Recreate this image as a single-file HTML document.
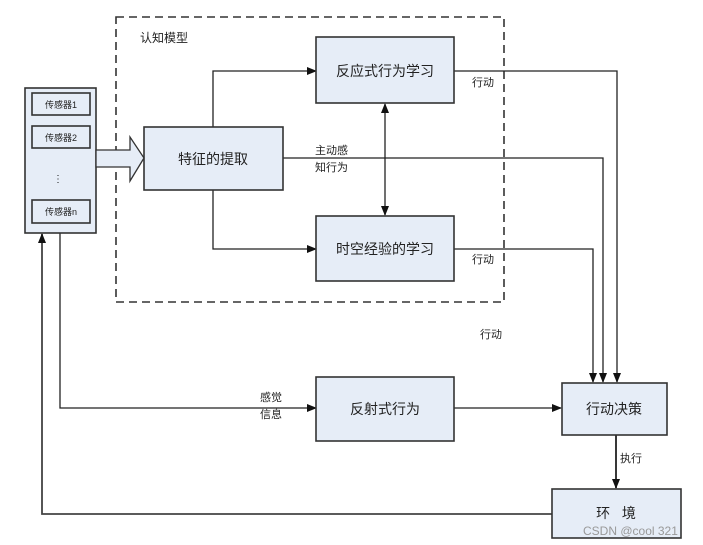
<!DOCTYPE html>
<html><head><meta charset="utf-8"><style>
html,body{margin:0;padding:0;background:#fff;width:703px;height:545px;overflow:hidden}
svg{display:block}
text{font-family:"Liberation Sans","Noto Sans CJK SC",sans-serif;fill:#222}
</style></head><body>
<svg width="703" height="545" viewBox="0 0 703 545" xmlns="http://www.w3.org/2000/svg">
<defs>
<marker id="a" markerWidth="10" markerHeight="8" refX="9" refY="4" orient="auto" markerUnits="userSpaceOnUse">
<path d="M0,0 L10,4 L0,8 Z" fill="#111"/></marker>
<marker id="s" markerWidth="10" markerHeight="8" refX="1" refY="4" orient="auto" markerUnits="userSpaceOnUse">
<path d="M10,0 L0,4 L10,8 Z" fill="#111"/></marker>
</defs>
<g fill="none" stroke="#222" stroke-width="1.3">
<!-- dashed cognitive box -->
<rect x="116" y="17" width="388" height="285" stroke="#333" stroke-width="1.6" stroke-dasharray="8,5"/>
<!-- feature to reactive -->
<polyline points="213,127 213,71 316,71" marker-end="url(#a)"/>
<polyline points="213,190 213,249 316,249" marker-end="url(#a)"/>
<!-- bidirectional -->
<line x1="385" y1="104" x2="385" y2="215" marker-start="url(#s)" marker-end="url(#a)"/>
<!-- main active perception line -->
<polyline points="283,158 603,158 603,382" marker-end="url(#a)"/>
<polyline points="454,71 617,71 617,382" marker-end="url(#a)"/>
<polyline points="454,249 593,249 593,382" marker-end="url(#a)"/>
<!-- sensory -->
<polyline points="60,233 60,408 316,408" marker-end="url(#a)"/>
<line x1="454" y1="408" x2="561" y2="408" marker-end="url(#a)"/>
<line x1="616" y1="435" x2="616" y2="488" stroke-width="1.8" marker-end="url(#a)"/>
<polyline points="552,514 42,514 42,234" stroke-width="1.8" stroke="#444" marker-end="url(#a)"/>
</g>
<!-- boxes -->
<g fill="#e6edf7" stroke="#333" stroke-width="1.6">
<rect x="25" y="88" width="71" height="145"/>
<rect x="32" y="93" width="58" height="22"/>
<rect x="32" y="126" width="58" height="22"/>
<rect x="32" y="200" width="58" height="23"/>
<rect x="144" y="127" width="139" height="63"/>
<rect x="316" y="37" width="138" height="66"/>
<rect x="316" y="216" width="138" height="65"/>
<rect x="316" y="377" width="138" height="64"/>
<rect x="562" y="383" width="105" height="52"/>
<rect x="552" y="489" width="129" height="49"/>
<!-- big arrow -->
<path d="M96,150 L130,150 L130,137 L144,158 L130,181 L130,167 L96,167 Z" stroke-width="1.3"/>
</g>
<g font-size="9">
<text x="61" y="108" text-anchor="middle">传感器1</text>
<text x="61" y="141" text-anchor="middle">传感器2</text>
<text x="61" y="215" text-anchor="middle">传感器n</text>
<text x="58" y="182" text-anchor="middle" font-size="10">⋮</text>
</g>
<g font-size="14" text-anchor="middle">
<text x="213" y="164">特征的提取</text>
<text x="385" y="76">反应式行为学习</text>
<text x="385" y="254">时空经验的学习</text>
<text x="385" y="414">反射式行为</text>
<text x="614" y="414">行动决策</text>
<text x="616" y="518">环&#160;&#160;&#160;境</text>
</g>
<g font-size="11">
<text x="140" y="42" font-size="12">认知模型</text>
<text x="472" y="86">行动</text>
<text x="472" y="263">行动</text>
<text x="480" y="338">行动</text>
<text x="315" y="154">主动感</text>
<text x="315" y="171">知行为</text>
<text x="260" y="401">感觉</text>
<text x="260" y="418">信息</text>
<text x="620" y="462">执行</text>
</g>
<text x="583" y="535" font-size="12" fill="#aaa" style="fill:#999">CSDN @cool 321</text>
</svg>
</body></html>
